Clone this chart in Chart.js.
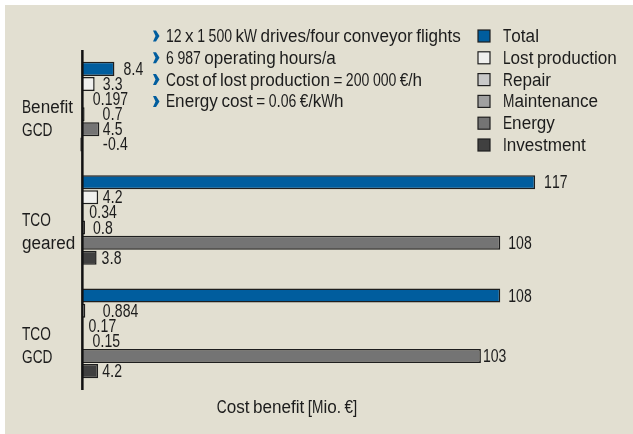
<!DOCTYPE html>
<html>
<head>
<meta charset="utf-8">
<script src="https://cdn.jsdelivr.net/npm/chart.js@4"></script>
<style>
  html, body { margin: 0; padding: 0; background: #ffffff; }
  #wrap { width: 633px; height: 434px; position: relative; }
</style>
</head>
<body>
<div id="wrap"><canvas id="c" width="633" height="434"></canvas></div>
<script>
// ---- data ----
const categories = [["Benefit", "GCD"], ["TCO", "geared"], ["TCO", "GCD"]];
const seriesNames = ["Total", "Lost production", "Repair", "Maintenance", "Energy", "Investment"];
const total          = [8.4, 117, 108];
const lostProduction = [3.3, 4.2, 0.884];
const repair         = [0.197, 0.34, 0.17];
const maintenance    = [0.7, 0.8, 0.15];
const energy         = [4.5, 108, 103];
const investment     = [-0.4, 3.8, 4.2];
const notes = [
  "12 x 1\u2009500 kW drives/four conveyor flights",
  "6\u2009987 operating hours/a",
  "Cost of lost production = 200\u2009000 €/h",
  "Energy cost = 0.06 €/kWh"
];
const axisTitle = "Cost benefit [Mio. €]";

// ---- styling ----
const FONT = '"Liberation Sans", Arial, sans-serif';
const FS = 18;
const TXT = "#1c1c1c";
const colors = ["#005d9e", "#f0f0ee", "#c9c9c9", "#a0a0a0", "#747474", "#404040"];
// per-label horizontal gap (px) after bar end, as in the reference layout
const labelGap = [
  [9, 9, 8],
  [8, 4.5, 17.5],
  [10, 6, 6],
  [18, 8, 10],
  [3.5, 8, 2],
  [21, 5, 4]
];

const seriesValues = [total, lostProduction, repair, maintenance, energy, investment];

const datasets = seriesValues.map((vals, i) => ({
  label: seriesNames[i],
  data: vals,
  backgroundColor: colors[i],
  borderColor: "#1e1e1e",
  borderWidth: 1.5,
  borderSkipped: "start",
  categoryPercentage: 0.8,
  barPercentage: 0.93
}));

// condensed-text renderer (imitates a condensed grotesque)
function charScale(ch) {
  if (/[A-Z]/.test(ch)) return 0.76;
  if (/[a-z]/.test(ch)) return 0.95;
  if (/[0-9]/.test(ch)) return 0.78;
  if (ch === " ") return 0.7;
  if (ch === "\u2009") return 1;
  return 0.85;
}
function txt(ctx, s, x, y, align) {
  const chars = Array.from(s);
  const widths = chars.map(ch => ctx.measureText(ch).width * charScale(ch));
  const totalW = widths.reduce((a, b) => a + b, 0);
  let cx = x;
  if (align === "center") cx = x - totalW / 2;
  else if (align === "right") cx = x - totalW;
  ctx.textAlign = "left";
  ctx.textBaseline = "middle";
  chars.forEach((ch, i) => {
    ctx.save();
    ctx.translate(cx, y);
    ctx.scale(charScale(ch), 1);
    ctx.fillText(ch, 0, 0);
    ctx.restore();
    cx += widths[i];
  });
}

const decor = {
  id: "decor",
  beforeDraw(chart) {
    const ctx = chart.ctx;
    ctx.save();
    ctx.fillStyle = "#ffffff";
    ctx.fillRect(0, 0, chart.width, chart.height);
    ctx.fillStyle = "#e2dfd1";
    ctx.fillRect(5, 5, chart.width - 5, chart.height - 5);
    ctx.restore();
  },
  afterDatasetsDraw(chart) {
    const ctx = chart.ctx;
    const xs = chart.scales.x;
    const ys = chart.scales.y;
    const area = chart.chartArea;
    ctx.save();
    // axis line at zero
    const x0 = xs.getPixelForValue(0);
    ctx.strokeStyle = "#111";
    ctx.lineWidth = 2.5;
    ctx.beginPath();
    ctx.moveTo(x0 + 0.5, area.top);
    ctx.lineTo(x0 + 0.5, area.bottom);
    ctx.stroke();

    ctx.font = FS + "px " + FONT;
    ctx.fillStyle = TXT;

    // category labels
    chart.data.labels.forEach((lab, i) => {
      const yc = ys.getPixelForValue(i) + 13;
      const lh = 23;
      lab.forEach((line, k) => {
        txt(ctx, line, 22, yc + (k - (lab.length - 1) / 2) * lh, "left");
      });
    });

    // value labels
    chart.data.datasets.forEach((ds, di) => {
      const meta = chart.getDatasetMeta(di);
      meta.data.forEach((bar, j) => {
        const v = ds.data[j];
        const end = xs.getPixelForValue(Math.max(v, 0));
        txt(ctx, String(v), end + labelGap[di][j], bar.y + 1, "left");
      });
    });

    // legend
    const rowY0 = 36, rowH = 21.8;
    chart.data.datasets.forEach((ds, di) => {
      const y = rowY0 + di * rowH;
      ctx.fillStyle = ds.backgroundColor;
      ctx.fillRect(478, y - 6, 12, 12);
      ctx.strokeStyle = "#1e1e1e";
      ctx.lineWidth = 1.2;
      ctx.strokeRect(478, y - 6, 12, 12);
      ctx.fillStyle = TXT;
      txt(ctx, ds.label, 503, y + 1, "left");
    });

    // notes with blue chevrons
    notes.forEach((t, i) => {
      const y = rowY0 + i * rowH;
      ctx.fillStyle = "#005d9e";
      ctx.beginPath();
      ctx.moveTo(153, y - 5.5);
      ctx.lineTo(156, y - 5.5);
      ctx.lineTo(159.5, y);
      ctx.lineTo(156, y + 5.5);
      ctx.lineTo(153, y + 5.5);
      ctx.lineTo(155.5, y);
      ctx.closePath();
      ctx.fill();
      ctx.fillStyle = TXT;
      txt(ctx, t, 166, y + 1, "left");
    });

    // axis title
    txt(ctx, axisTitle, 287, 408, "center");
    ctx.restore();
  }
};

new Chart(document.getElementById("c"), {
  type: "bar",
  data: { labels: categories, datasets },
  options: {
    indexAxis: "y",
    responsive: false,
    animation: false,
    layout: { padding: { left: 22, right: 8, top: 50, bottom: 44 } },
    plugins: { legend: { display: false }, tooltip: { enabled: false } },
    scales: {
      x: { display: false, min: -1, max: 140.2 },
      y: {
        grid: { display: false },
        border: { display: false },
        ticks: { display: false },
        afterFit(scale) { scale.width = 56; }
      }
    }
  },
  plugins: [decor]
});
</script>
</body>
</html>
